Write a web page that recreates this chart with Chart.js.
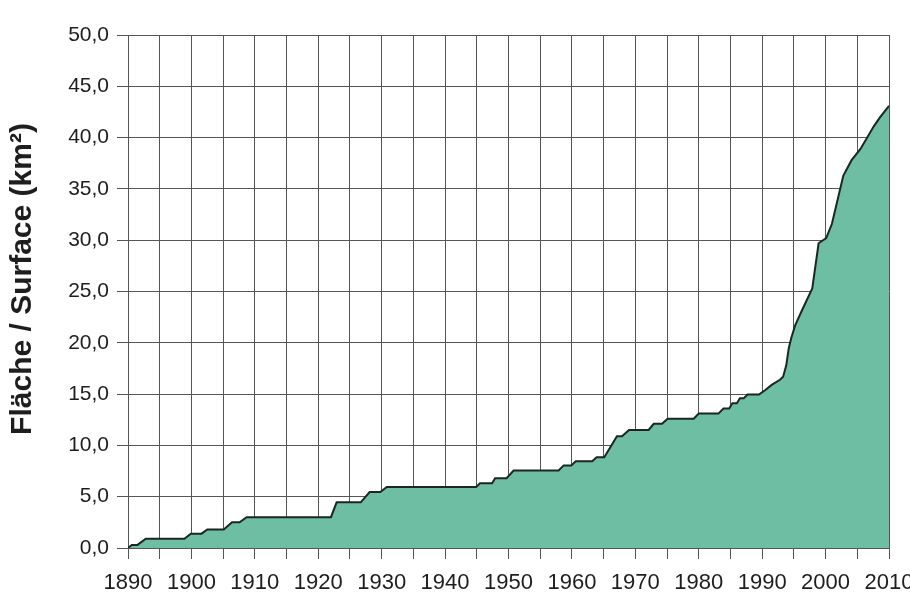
<!DOCTYPE html>
<html>
<head>
<meta charset="utf-8">
<script src="https://cdn.jsdelivr.net/npm/chart.js@4.4.1/dist/chart.umd.min.js"></script>
<style>
  html, body { margin: 0; padding: 0; background: #ffffff; }
  #wrap { width: 910px; height: 594px; }
</style>
</head>
<body>
<div id="wrap"><canvas id="c" width="910" height="594"></canvas></div>
<script>
// Years (x) and area in km² (y)
const years = [
  1890, 1890.6, 1891.5, 1892.8, 1898.9, 1899.9, 1901.6, 1902.5, 1905.1, 1906.4,
  1907.6, 1908.7, 1922.0, 1922.9, 1926.7, 1928.1, 1929.8, 1930.8, 1944.9, 1945.5,
  1947.4, 1947.9, 1949.7, 1950.8, 1957.9, 1958.7, 1959.9, 1960.6, 1963.2, 1963.9,
  1965.1, 1967.1, 1967.9, 1969.0, 1972.1, 1972.9, 1974.2, 1975.1, 1979.2, 1980.0,
  1983.1, 1983.9, 1984.8, 1985.3, 1986.0, 1986.5, 1987.1, 1987.7, 1989.5, 1990.5,
  1991.5, 1992.8, 1993.3, 1993.8, 1994.2, 1994.6, 1995.2, 1996.3, 1997.9, 1998.9,
  2000.1, 2001.0, 2002.8, 2004.1, 2005.5, 2007.6, 2008.6, 2010
];
const areaKm2 = [
  0.0, 0.3, 0.3, 0.9, 0.9, 1.4, 1.4, 1.8, 1.8, 2.5,
  2.5, 3.0, 3.0, 4.45, 4.45, 5.45, 5.45, 5.95, 5.95, 6.3,
  6.3, 6.8, 6.8, 7.55, 7.55, 8.05, 8.05, 8.45, 8.45, 8.85,
  8.85, 10.9, 10.9, 11.5, 11.5, 12.1, 12.1, 12.6, 12.6, 13.1,
  13.1, 13.6, 13.6, 14.1, 14.1, 14.6, 14.6, 14.95, 14.95, 15.4,
  15.9, 16.4, 16.7, 17.8, 19.5, 20.5, 21.7, 23.2, 25.3, 29.7,
  30.2, 31.6, 36.3, 37.8, 38.9, 41.1, 42.0, 43.1
];
const xTickLabels = ['1890','1900','1910','1920','1930','1940','1950','1960','1970','1980','1990','2000','2010'];
const yTickLabels = ['0,0','5,0','10,0','15,0','20,0','25,0','30,0','35,0','40,0','45,0','50,0'];
const yTitle = '\u00A0\u00A0\u00A0Fläche / Surface (km²)';

const points = years.map((y, i) => ({ x: y, y: areaKm2[i] }));

const gridColor = '#555555';
const textColor = '#1e1e1e';

new Chart(document.getElementById('c'), {
  type: 'line',
  data: {
    datasets: [{
      data: points,
      borderColor: '#1d2622',
      borderWidth: 2,
      backgroundColor: '#6dbea2',
      fill: 'origin',
      tension: 0,
      pointRadius: 0,
      pointHoverRadius: 0
    }]
  },
  options: {
    responsive: false,
    animation: false,
    events: [],
    layout: { padding: { left: 0, right: 21, top: 35, bottom: 0 } },
    plugins: { legend: { display: false }, tooltip: { enabled: false } },
    scales: {
      x: {
        type: 'linear',
        min: 1890,
        max: 2010,
        grid: { color: gridColor, lineWidth: 1, tickLength: 11, drawTicks: true },
        border: { color: gridColor, width: 1 },
        ticks: {
          stepSize: 5,
          autoSkip: false,
          maxRotation: 0,
          padding: 11,
          color: textColor,
          font: { family: "'Liberation Sans', Arial, sans-serif", size: 22 },
          callback: function (v) {
            const d = v - 1890;
            if (d % 10 === 0) return xTickLabels[d / 10];
            return '';
          }
        },
        afterFit: function (scale) {
          scale.height = 46;
          scale.paddingRight = 0;
          scale.paddingLeft = 0;
        }
      },
      y: {
        type: 'linear',
        min: 0,
        max: 50,
        grid: { color: gridColor, lineWidth: 1, tickLength: 11, drawTicks: true },
        border: { color: gridColor, width: 1 },
        ticks: {
          stepSize: 5,
          padding: 8,
          color: textColor,
          font: { family: "'Liberation Sans', Arial, sans-serif", size: 21 },
          callback: function (v) {
            const i = Math.round(v / 5);
            return yTickLabels[i];
          }
        },
        title: {
          display: true,
          text: yTitle,
          color: textColor,
          font: { family: "'Liberation Sans', Arial, sans-serif", size: 30, weight: 'bold' },
          padding: { top: 5, bottom: 0 }
        },
        afterFit: function (scale) {
          scale.width = 128;
        }
      }
    }
  }
});
</script>
</body>
</html>
